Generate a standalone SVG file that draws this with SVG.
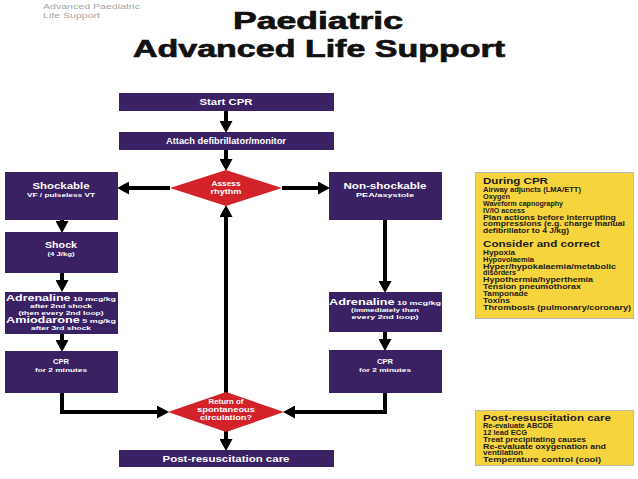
<svg xmlns="http://www.w3.org/2000/svg" width="638" height="479" viewBox="0 0 638 479">
<defs>
<marker id="ah" markerUnits="userSpaceOnUse" markerWidth="12" markerHeight="13" refX="4" refY="6.5" orient="auto">
<path d="M0,0 L12,6.5 L0,13 z" fill="#000"/>
</marker>
<style>
.box{fill:#3a2163;}
.dia{fill:#d2232a;}
.yel{fill:#f6d43d;stroke:#b8b8b8;stroke-width:1;}
.w{fill:#fff;font-family:"Liberation Sans",Arial,sans-serif;font-weight:bold;text-anchor:middle;}
.k{fill:#1a1a1a;font-family:"Liberation Sans",Arial,sans-serif;font-weight:bold;font-size:6.3px;}
.h{font-size:8.5px;}
.t{font-family:"Liberation Sans",Arial,sans-serif;font-weight:bold;font-size:24px;fill:#111;stroke:#111;stroke-width:0.7;text-anchor:middle;}
.c{fill:none;stroke:#000;stroke-width:4;marker-end:url(#ah);}
</style>
</defs>
<rect width="638" height="479" fill="#fff"/>
<g id="header">
<text x="43" y="9" font-family="Liberation Sans, Arial, sans-serif" font-size="7.8" fill="#a3a3a3" textLength="97" lengthAdjust="spacingAndGlyphs">Advanced Paediatric</text>
<text x="43" y="18" font-family="Liberation Sans, Arial, sans-serif" font-size="7.8" fill="#a3a3a3" textLength="57" lengthAdjust="spacingAndGlyphs">Life Support</text>
<text class="t" x="318" y="29" textLength="170" lengthAdjust="spacingAndGlyphs">Paediatric</text>
<text class="t" x="319" y="57" textLength="372" lengthAdjust="spacingAndGlyphs">Advanced Life Support</text>
</g>
<g id="connectors">
<line class="c" x1="226" y1="111" x2="226" y2="125"/>
<line class="c" x1="226" y1="150" x2="226" y2="163"/>
<line class="c" x1="170" y1="188" x2="125" y2="188"/>
<line class="c" x1="282" y1="188" x2="322" y2="188"/>
<line class="c" x1="62" y1="220" x2="62" y2="225"/>
<line class="c" x1="62" y1="273" x2="62" y2="284"/>
<line class="c" x1="62" y1="334" x2="62" y2="344"/>
<polyline class="c" points="62,393 62,412 161,412"/>
<line class="c" x1="385" y1="220" x2="385" y2="285"/>
<line class="c" x1="385" y1="332" x2="385" y2="343"/>
<polyline class="c" points="385,393 385,412 291,412"/>
<line class="c" x1="226" y1="393" x2="226" y2="213"/>
<line class="c" x1="226" y1="431" x2="226" y2="443"/>
</g>
<g id="start-cpr">
<rect class="box" x="119" y="93" width="215" height="18"/>
<text class="w" x="226" y="105" font-size="8.5" textLength="53" lengthAdjust="spacingAndGlyphs">Start CPR</text>
</g>
<g id="attach">
<rect class="box" x="119" y="132" width="215" height="18"/>
<text class="w" x="226" y="144" font-size="8.5" textLength="120" lengthAdjust="spacingAndGlyphs">Attach defibrillator/monitor</text>
</g>
<g id="assess">
<polygon class="dia" points="226,170 282,188 226,206 170,188"/>
<text class="w" x="226" y="186" font-size="7.8" textLength="29" lengthAdjust="spacingAndGlyphs">Assess</text>
<text class="w" x="226" y="194" font-size="7.8" textLength="31" lengthAdjust="spacingAndGlyphs">rhythm</text>
</g>
<g id="shockable">
<rect class="box" x="5" y="172" width="113" height="48"/>
<text class="w" x="61" y="189" font-size="9" textLength="57" lengthAdjust="spacingAndGlyphs">Shockable</text>
<text class="w" x="61" y="197" font-size="6" textLength="68" lengthAdjust="spacingAndGlyphs">VF / pulseless VT</text>
</g>
<g id="non-shockable">
<rect class="box" x="329" y="172" width="113" height="48"/>
<text class="w" x="385" y="189" font-size="9" textLength="83" lengthAdjust="spacingAndGlyphs">Non-shockable</text>
<text class="w" x="385" y="197" font-size="6" textLength="58" lengthAdjust="spacingAndGlyphs">PEA/asystole</text>
</g>
<g id="shock">
<rect class="box" x="5" y="232" width="113" height="41"/>
<text class="w" x="61" y="248" font-size="9" textLength="32" lengthAdjust="spacingAndGlyphs">Shock</text>
<text class="w" x="61" y="256" font-size="6" textLength="27" lengthAdjust="spacingAndGlyphs">(4 J/kg)</text>
</g>
<g id="adrenaline-left">
<rect class="box" x="5" y="292" width="113" height="42"/>
<text class="w" x="61" y="300.5" font-size="6" textLength="110" lengthAdjust="spacingAndGlyphs"><tspan font-size="8.5">Adrenaline</tspan> 10 mcg/kg</text>
<text class="w" x="61" y="307.5" font-size="6" textLength="62" lengthAdjust="spacingAndGlyphs">after 2nd shock</text>
<text class="w" x="61" y="314.5" font-size="6" textLength="85" lengthAdjust="spacingAndGlyphs">(then every 2nd loop)</text>
<text class="w" x="61" y="323" font-size="6" textLength="110" lengthAdjust="spacingAndGlyphs"><tspan font-size="8.5">Amiodarone</tspan> 5 mg/kg</text>
<text class="w" x="61" y="330" font-size="6" textLength="60" lengthAdjust="spacingAndGlyphs">after 3rd shock</text>
</g>
<g id="adrenaline-right">
<rect class="box" x="329" y="292" width="113" height="40"/>
<text class="w" x="385" y="305" font-size="6" textLength="112" lengthAdjust="spacingAndGlyphs"><tspan font-size="8.5">Adrenaline</tspan> 10 mcg/kg</text>
<text class="w" x="385" y="312" font-size="6" textLength="68" lengthAdjust="spacingAndGlyphs">(immediately then</text>
<text class="w" x="385" y="319" font-size="6" textLength="67" lengthAdjust="spacingAndGlyphs">every 2nd loop)</text>
</g>
<g id="cpr-left">
<rect class="box" x="5" y="351" width="113" height="42"/>
<text class="w" x="61" y="364" font-size="8" textLength="16" lengthAdjust="spacingAndGlyphs">CPR</text>
<text class="w" x="61" y="372" font-size="6" textLength="52" lengthAdjust="spacingAndGlyphs">for 2 minutes</text>
</g>
<g id="cpr-right">
<rect class="box" x="329" y="350" width="113" height="43"/>
<text class="w" x="385" y="364" font-size="8" textLength="16" lengthAdjust="spacingAndGlyphs">CPR</text>
<text class="w" x="385" y="372" font-size="6" textLength="52" lengthAdjust="spacingAndGlyphs">for 2 minutes</text>
</g>
<g id="rosc">
<polygon class="dia" points="226,392 284,412 226,432 168,412"/>
<text class="w" x="226" y="404" font-size="7.5" textLength="35" lengthAdjust="spacingAndGlyphs">Return of</text>
<text class="w" x="226" y="412" font-size="7.5" textLength="58" lengthAdjust="spacingAndGlyphs">spontaneous</text>
<text class="w" x="226" y="420" font-size="7.5" textLength="52" lengthAdjust="spacingAndGlyphs">circulation?</text>
</g>
<g id="post-care">
<rect class="box" x="119" y="450" width="215" height="17"/>
<text class="w" x="226" y="462" font-size="8.5" textLength="127" lengthAdjust="spacingAndGlyphs">Post-resuscitation care</text>
</g>
<g id="during-cpr">
<rect class="yel" x="475.5" y="172.5" width="158" height="146"/>
<text class="k h" x="483" y="184" textLength="65" lengthAdjust="spacingAndGlyphs">During CPR</text>
<text class="k" x="483" y="191.5" textLength="98" lengthAdjust="spacingAndGlyphs">Airway adjuncts (LMA/ETT)</text>
<text class="k" x="483" y="198.5" textLength="27" lengthAdjust="spacingAndGlyphs">Oxygen</text>
<text class="k" x="483" y="205.5" textLength="80" lengthAdjust="spacingAndGlyphs">Waveform capnography</text>
<text class="k" x="483" y="212.5" textLength="42" lengthAdjust="spacingAndGlyphs">IV/IO access</text>
<text class="k" x="483" y="219.5" textLength="133" lengthAdjust="spacingAndGlyphs">Plan actions before interrupting</text>
<text class="k" x="483" y="226" textLength="142" lengthAdjust="spacingAndGlyphs">compressions (e.g. charge manual</text>
<text class="k" x="483" y="232.5" textLength="86" lengthAdjust="spacingAndGlyphs">defibrillator to 4 J/kg)</text>
<text class="k h" x="483" y="247" textLength="117" lengthAdjust="spacingAndGlyphs">Consider and correct</text>
<text class="k" x="483" y="254.5" textLength="32" lengthAdjust="spacingAndGlyphs">Hypoxia</text>
<text class="k" x="483" y="261.5" textLength="51" lengthAdjust="spacingAndGlyphs">Hypovolaemia</text>
<text class="k" x="483" y="268.5" textLength="133" lengthAdjust="spacingAndGlyphs">Hyper/hypokalaemia/metabolic</text>
<text class="k" x="483" y="275" textLength="33" lengthAdjust="spacingAndGlyphs">disorders</text>
<text class="k" x="483" y="282" textLength="110" lengthAdjust="spacingAndGlyphs">Hypothermia/hyperthemia</text>
<text class="k" x="483" y="289" textLength="98" lengthAdjust="spacingAndGlyphs">Tension pneumothorax</text>
<text class="k" x="483" y="296" textLength="45" lengthAdjust="spacingAndGlyphs">Tamponade</text>
<text class="k" x="483" y="303" textLength="27" lengthAdjust="spacingAndGlyphs">Toxins</text>
<text class="k" x="483" y="310" textLength="148" lengthAdjust="spacingAndGlyphs">Thrombosis (pulmonary/coronary)</text>
</g>
<g id="post-resus-box">
<rect class="yel" x="475.5" y="410.5" width="158" height="55"/>
<text class="k h" x="483" y="420.5" textLength="128" lengthAdjust="spacingAndGlyphs">Post-resuscitation care</text>
<text class="k" x="483" y="427.5" textLength="70" lengthAdjust="spacingAndGlyphs">Re-evaluate ABCDE</text>
<text class="k" x="483" y="434.5" textLength="44" lengthAdjust="spacingAndGlyphs">12 lead ECG</text>
<text class="k" x="483" y="441.5" textLength="103" lengthAdjust="spacingAndGlyphs">Treat precipitating causes</text>
<text class="k" x="483" y="448.5" textLength="123" lengthAdjust="spacingAndGlyphs">Re-evaluate oxygenation and</text>
<text class="k" x="483" y="455" textLength="40" lengthAdjust="spacingAndGlyphs">ventilation</text>
<text class="k" x="483" y="462" textLength="118" lengthAdjust="spacingAndGlyphs">Temperature control (cool)</text>
</g>
</svg>
